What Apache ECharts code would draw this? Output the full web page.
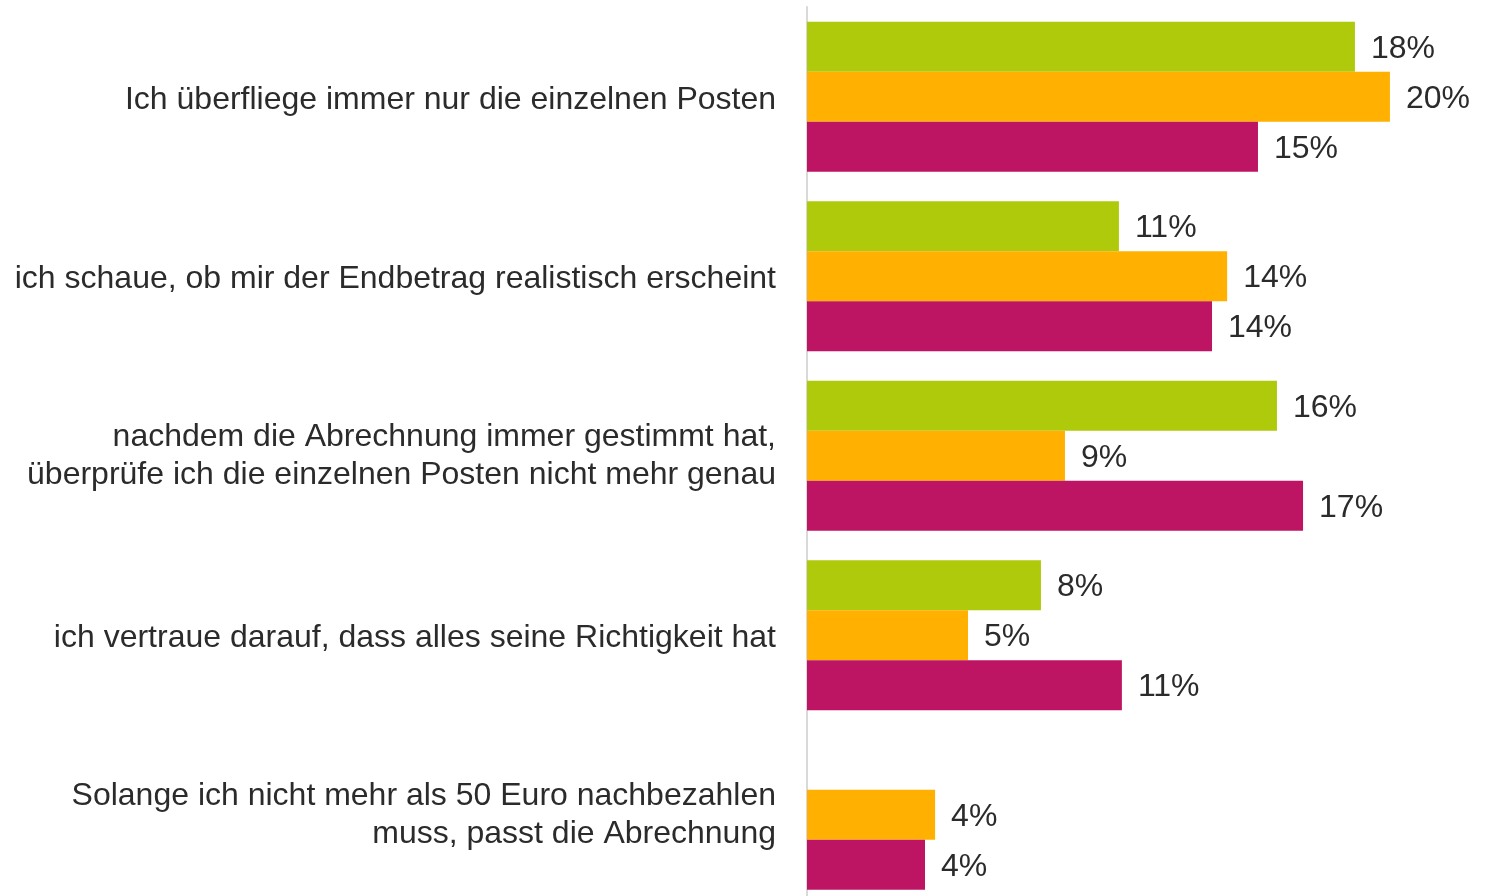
<!DOCTYPE html>
<html>
<head>
<meta charset="utf-8">
<script src="https://cdn.jsdelivr.net/npm/echarts@6/dist/echarts.min.js"></script>
<style>
  html, body { margin: 0; padding: 0; background: #fff; overflow: hidden; }
  /* the plot runs past the bottom edge of the picture, so the canvas is a bit taller than the window */
  #chart { width: 1491px; height: 910px; }
</style>
</head>
<body>
<div id="chart"></div>
<script>
// Kategorien von oben nach unten
const categories = [
  'Ich überfliege immer nur die einzelnen Posten',
  'ich schaue, ob mir der Endbetrag realistisch erscheint',
  'nachdem die Abrechnung immer gestimmt hat,\nüberprüfe ich die einzelnen Posten nicht mehr genau',
  'ich vertraue darauf, dass alles seine Richtigkeit hat',
  'Solange ich nicht mehr als 50 Euro nachbezahlen\nmuss, passt die Abrechnung'
];
// Werte in %, aus den Balkenlängen geschätzt (Beschriftung gerundet)
const greenValues = [18.48, 10.52, 15.85, 7.89, null];
const orangeValues = [19.66, 14.17, 8.70, 5.43, 4.32];
const magentaValues = [15.21, 13.66, 16.73, 10.62, 3.98];

const font = 'Liberation Sans, Arial, sans-serif';
const textColor = '#2b2b2b';

const valueLabel = {
  show: true,
  position: 'right',
  distance: 16,
  offset: [0, 2],
  fontFamily: font,
  fontSize: 32,
  color: textColor,
  formatter: (p) => Math.round(p.value) + '%'
};

function makeSeries(name, data, color) {
  return {
    name: name,
    type: 'bar',
    data: data,
    barWidth: 50,
    barGap: '0%',
    itemStyle: { color: color },
    label: valueLabel,
    emphasis: { disabled: true }
  };
}

const labelLine = { fontFamily: font, fontSize: 32, color: textColor, align: 'right' };

const chart = echarts.init(document.getElementById('chart'));
chart.setOption({
  animation: false,
  grid: { left: 807, top: 7, width: 652.3, height: 897.5, containLabel: false },
  xAxis: {
    type: 'value',
    min: 0,
    max: 22,
    show: false
  },
  yAxis: {
    type: 'category',
    inverse: true,
    data: categories,
    offset: 1,
    axisLine: { show: true, lineStyle: { color: '#d9d9d9', width: 2 } },
    axisTick: { show: false },
    axisLabel: {
      margin: 30,
      align: 'right',
      // first line gets a little top padding so the block sits ~3px lower
      formatter: (v) => v.split('\n').map((s, i) => (i === 0 ? '{a|' : '{b|') + s + '}').join('\n'),
      rich: {
        a: Object.assign({ lineHeight: 38, padding: [6, 0, 0, 0] }, labelLine),
        b: Object.assign({ lineHeight: 44 }, labelLine)
      }
    },
    splitLine: { show: false }
  },
  series: [
    makeSeries('grün', greenValues, '#AFCA0B'),
    makeSeries('orange', orangeValues, '#FFB000'),
    makeSeries('magenta', magentaValues, '#BE1464')
  ]
});
</script>
</body>
</html>
